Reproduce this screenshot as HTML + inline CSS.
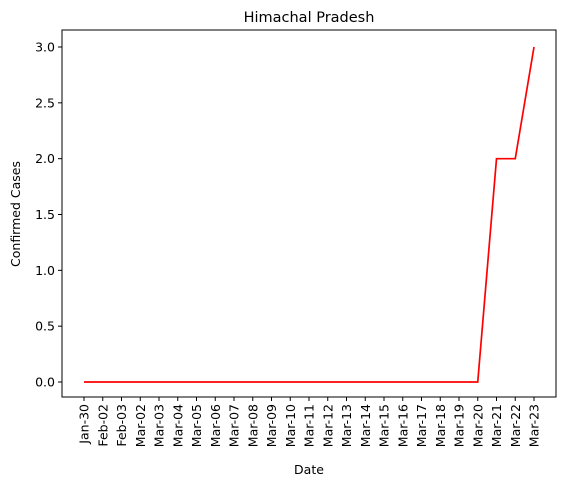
<!DOCTYPE html>
<html><head><meta charset="utf-8"><style>
body{margin:0;background:#fff;}
svg{display:block;font-family:"DejaVu Sans","Liberation Sans",sans-serif;}
</style></head><body>
<svg id="chart" width="567" height="487" viewBox="0 0 567 487">
<rect x="0" y="0" width="567" height="487" fill="#fff"/>
<text x="309" y="22" text-anchor="middle" font-size="14.5">Himachal Pradesh</text>
<g id="yt"></g>
<g id="xt"></g>
<path id="line" fill="none" stroke="#ff0000" stroke-width="1.7"/>
<rect x="62" y="30" width="494" height="367" fill="none" stroke="#000" stroke-width="1"/>
<text x="309" y="474" text-anchor="middle" font-size="12.5">Date</text>
<text transform="translate(20,214) rotate(-90)" text-anchor="middle" font-size="12.5">Confirmed Cases</text>
</svg>
<script>
const categories=["Jan-30","Feb-02","Feb-03","Mar-02","Mar-03","Mar-04","Mar-05","Mar-06","Mar-07","Mar-08","Mar-09","Mar-10","Mar-11","Mar-12","Mar-13","Mar-14","Mar-15","Mar-16","Mar-17","Mar-18","Mar-19","Mar-20","Mar-21","Mar-22","Mar-23"];
const values=[0,0,0,0,0,0,0,0,0,0,0,0,0,0,0,0,0,0,0,0,0,0,2,2,3];
const yTicks=[0,0.5,1,1.5,2,2.5,3];
const yTickLabels=["0.0","0.5","1.0","1.5","2.0","2.5","3.0"];
const NS="http://www.w3.org/2000/svg";
function xs(i){return 84+i*(450/(categories.length-1));}
function ys(v){return 382-v*(335/3);}
const yt=document.getElementById('yt'),xt=document.getElementById('xt');
yTicks.forEach((v,i)=>{
 const l=document.createElementNS(NS,'line');
 
 
 l.setAttribute('x1',58);l.setAttribute('x2',62);l.setAttribute('y1',ys(v));l.setAttribute('y2',ys(v));l.setAttribute('stroke','#000');
 yt.appendChild(l);
 const t=document.createElementNS(NS,'text');
 
 
 t.setAttribute('x',55);t.setAttribute('y',ys(v)+4.5);t.setAttribute('text-anchor','end');t.setAttribute('font-size','12.5');
 t.textContent=yTickLabels[i];yt.appendChild(t);
});
categories.forEach((c,i)=>{
 const x=xs(i);
 const l=document.createElementNS(NS,'line');
 
 
 l.setAttribute('x1',x);l.setAttribute('x2',x);l.setAttribute('y1',397);l.setAttribute('y2',401);l.setAttribute('stroke','#000');
 xt.appendChild(l);
 const t=document.createElementNS(NS,'text');
 
 
 t.setAttribute('transform','translate('+(x+4.5)+',404) rotate(-90)');t.setAttribute('text-anchor','end');t.setAttribute('font-size','12.5');
 t.textContent=c;xt.appendChild(t);
});
document.getElementById('line').setAttribute('d',values.map((v,i)=>(i?'L':'M')+xs(i)+' '+ys(v)).join(' '));
</script>
</body></html>
